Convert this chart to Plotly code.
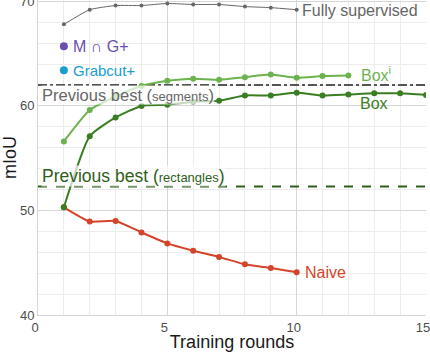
import plotly.graph_objects as go

rounds_full = [1, 2, 3, 4, 5, 6, 7, 8, 9, 10]
fully_supervised = [67.8, 69.2, 69.6, 69.6, 69.8, 69.7, 69.7, 69.5, 69.4, 69.2]

rounds_boxi = [1, 2, 3, 4, 5, 6, 7, 8, 9, 10, 11, 12]
box_i = [56.6, 59.6, 60.9, 61.9, 62.4, 62.6, 62.5, 62.75, 63.0, 62.7, 62.85, 62.9]

rounds_box = [1, 2, 3, 4, 5, 6, 7, 8, 9, 10, 11, 12, 13, 14, 15]
box = [50.3, 57.1, 58.9, 60.0, 60.1, 60.4, 60.5, 61.0, 61.0, 61.25, 61.0, 61.1, 61.2, 61.2, 61.05]

rounds_naive = [1, 2, 3, 4, 5, 6, 7, 8, 9, 10]
naive = [50.3, 48.95, 49.0, 47.9, 46.85, 46.15, 45.55, 44.85, 44.5, 44.1]

prev_best_segments = 62.0
prev_best_rectangles = 52.3
m_cap_g = 65.7
grabcut = 63.4

x_ticks = [0, 5, 10, 15]
y_ticks = [40, 50, 60, 70]

FONT = "Liberation Sans, Arial, sans-serif"
C_GRAY = "#666666"
C_RED = "#d4442a"
C_LIGHT = "#6cb24e"
C_DARK = "#3a7d22"
C_RECT = "#2f5e1b"
C_PURPLE = "#6a4fb0"
C_TEAL = "#1a9ecb"

fig = go.Figure()

# reference lines
fig.add_trace(go.Scatter(x=[0, 15], y=[prev_best_segments] * 2, mode="lines",
                         line=dict(color="#555555", width=2, dash="dashdot"), hoverinfo="skip"))
fig.add_trace(go.Scatter(x=[0, 15], y=[prev_best_rectangles] * 2, mode="lines",
                         line=dict(color=C_RECT, width=2, dash="dash"), hoverinfo="skip"))

fig.add_trace(go.Scatter(x=rounds_full, y=fully_supervised, mode="lines+markers",
                         line=dict(color=C_GRAY, width=1, shape="spline", smoothing=0.5),
                         marker=dict(size=4, color=C_GRAY)))
fig.add_trace(go.Scatter(x=rounds_boxi, y=box_i, mode="lines+markers",
                         line=dict(color=C_LIGHT, width=2, shape="spline", smoothing=0.5),
                         marker=dict(size=6, color=C_LIGHT)))
fig.add_trace(go.Scatter(x=rounds_naive, y=naive, mode="lines+markers",
                         line=dict(color=C_RED, width=2, shape="spline", smoothing=0.5),
                         marker=dict(size=6, color=C_RED)))
fig.add_trace(go.Scatter(x=rounds_box, y=box, mode="lines+markers",
                         line=dict(color=C_DARK, width=2, shape="spline", smoothing=0.5),
                         marker=dict(size=6, color=C_DARK)))
fig.add_trace(go.Scatter(x=[1], y=[m_cap_g], mode="markers", marker=dict(size=8, color=C_PURPLE)))
fig.add_trace(go.Scatter(x=[1], y=[grabcut], mode="markers", marker=dict(size=8, color=C_TEAL)))

def label(x, y, text, color, size=15, bg=None):
    fig.add_annotation(x=x, y=y, xref="x", yref="y", text=text, showarrow=False,
                       xanchor="left", yanchor="middle",
                       font=dict(family=FONT, size=size, color=color),
                       bgcolor=bg, borderpad=0)

label(10.15, 69.1, "Fully supervised", C_GRAY, 16)
label(12.45, 63.1, "Box<sup>i</sup>", C_LIGHT, 16)
label(12.4, 60.2, "Box", C_DARK, 16)
label(10.3, 44.07, "Naive", C_RED, 16)
label(1.3, 65.7, "M ∩ G+", C_PURPLE, 16)
label(1.3, 63.4, "Grabcut+", C_TEAL, 15)
label(0.12, 61.05, "Previous best (<span style='font-size:13px'>segments</span>)",
      C_GRAY, 16.5, bg="rgba(255,255,255,0.7)")
label(0.1, 53.3, "Previous best (<span style='font-size:13px'>rectangles</span>)",
      C_RECT, 17.5, bg="rgba(255,255,255,0.7)")

fig.update_layout(
    width=430, height=352,
    margin=dict(l=38, r=4, t=0, b=37),
    plot_bgcolor="white", paper_bgcolor="white",
    showlegend=False,
    font=dict(family=FONT),
    xaxis=dict(range=[0, 15], tickvals=x_ticks, ticktext=[str(v) for v in x_ticks],
               automargin=False, ticklabelshift=-3,
               showgrid=True, gridcolor="#d6d6d6", gridwidth=1,
               minor=dict(dtick=1, tick0=0, showgrid=True, gridcolor="#ececec", gridwidth=1),
               zeroline=False, showline=True, linecolor="#d6d6d6", linewidth=1,
               tickfont=dict(size=13, color="#4d4d4d"), ticks="", ticklabeloverflow="allow",
               title=dict(text="Training rounds", font=dict(size=18, color="#1a1a1a"), standoff=2)),
    yaxis=dict(range=[40, 70.13], tickvals=y_ticks, ticktext=[str(v) for v in y_ticks],
               automargin=False,
               showgrid=True, gridcolor="#d6d6d6", gridwidth=1,
               minor=dict(dtick=2, tick0=40, showgrid=True, gridcolor="#ececec", gridwidth=1),
               zeroline=False, showline=True, linecolor="#d6d6d6", linewidth=1,
               tickfont=dict(size=13, color="#4d4d4d"), ticks="", ticklabeloverflow="allow",
               title=dict(text="mIoU", font=dict(size=18, color="#1a1a1a"), standoff=4)),
)

fig.write_html("out.html")
